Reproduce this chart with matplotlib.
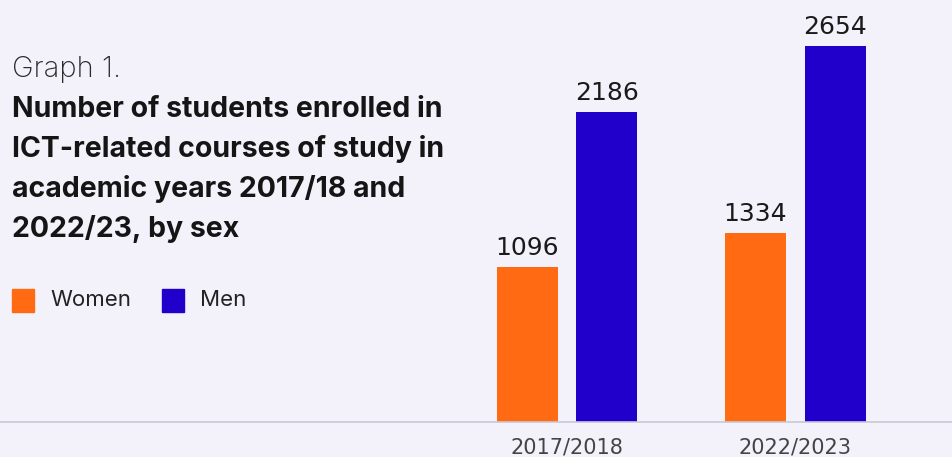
import matplotlib.pyplot as plt
import numpy as np

years = ["2017/2018", "2022/2023"]
women = [1096, 1334]
men = [2186, 2654]
series_names = ["Women", "Men"]

bg = "#F3F2FB"
c_women = "#FF6A13"
c_men = "#2200CC"

W, H = 953, 457
fig = plt.figure(figsize=(W / 100, H / 100), dpi=100, facecolor=bg)

# axes spans the full width so the baseline runs edge to edge
ax = fig.add_axes([0, 35 / H, 1, 1 - 35 / H], facecolor="none")
x = np.arange(len(years))
w = 0.267
off = 0.175
b1 = ax.bar(x - off, women, w, color=c_women)
b2 = ax.bar(x + off, men, w, color=c_men)

for bars, vals in ((b1, women), (b2, men)):
    for rect, v in zip(bars, vals):
        ax.text(rect.get_x() + rect.get_width() / 2, v + 50, str(v),
                ha="center", va="bottom", fontsize=18,
                family="DejaVu Sans", color="#1a1a1a")

ax.set_xlim(-567 / 228.5, (W - 567) / 228.5)
ax.set_ylim(0, 422 / 0.1417)
for s in ["top", "right", "left"]:
    ax.spines[s].set_visible(False)
ax.spines["bottom"].set_color("#C8C8D4")
ax.spines["bottom"].set_linewidth(1.2)
ax.set_yticks([])
ax.set_xticks(x)
ax.set_xticklabels(years, fontsize=15, family="DejaVu Sans", color="#444444")
ax.tick_params(axis="x", length=0, pad=11)

def fy(px):
    return 1 - px / H

fig.text(12 / W, fy(77), "Graph 1.", fontsize=21, family="Inter",
         fontweight="light", color="#2a2a2a", va="baseline")
title = ["Number of students enrolled in",
         "ICT-related courses of study in",
         "academic years 2017/18 and",
         "2022/23, by sex"]
for i, line in enumerate(title):
    fig.text(12 / W, fy(117 + 40 * i), line, fontsize=20.5, family="Inter",
             fontweight="bold", color="#151515", va="baseline")

# legend
for name, col, sx, tx in ((series_names[0], c_women, 12, 50), (series_names[1], c_men, 162, 200)):
    fig.patches.append(plt.Rectangle((sx / W, fy(312)), 22 / W, 23 / H,
                                     transform=fig.transFigure, color=col))
    fig.text(tx / W, fy(300), name, fontsize=16, family="Inter",
             color="#222222", va="center")

fig.savefig("out.png", dpi=100, facecolor=bg)
